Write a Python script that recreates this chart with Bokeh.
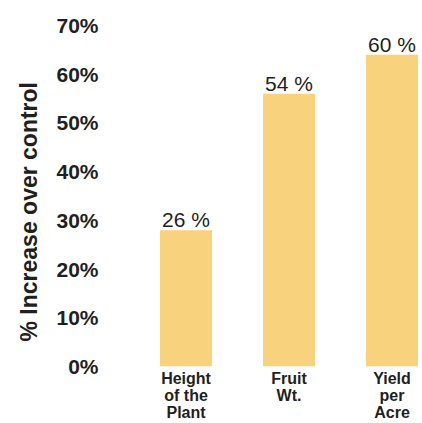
from bokeh.plotting import figure
from bokeh.models import Range1d, FixedTicker, Title
from bokeh.core.properties import value
from bokeh.embed import file_html
from bokeh.resources import INLINE

categories = ["Height\nof the\nPlant", "Fruit\nWt.", "Yield\nper\nAcre"]
bar_values = [28, 56, 64]
bar_labels = ["26 %", "54 %", "60 %"]
y_ticks = [0, 10, 20, 30, 40, 50, 60, 70]
y_tick_labels = ["0%", "10%", "20%", "30%", "40%", "50%", "60%", "70%"]
y_title = "% Increase over control"

xs = list(range(len(categories)))
tc = "#231f20"
font = "Liberation Sans"

p = figure(width=422, height=423, output_backend="svg", toolbar_location=None,
           x_range=Range1d(-0.782, 2.296), y_range=Range1d(0, 75.15),
           min_border_left=105, min_border_right=0, min_border_top=0, min_border_bottom=0)
p.outline_line_color = None
p.xgrid.grid_line_color = None
p.ygrid.grid_line_color = None
p.background_fill_color = "white"
p.border_fill_color = "white"

p.vbar(x=xs, top=bar_values, bottom=0, width=0.505, fill_color="#F9D27D", line_color=None)
p.text(x=xs, y=bar_values, text=bar_labels, text_align="center", text_baseline="bottom",
       y_offset=1, text_font=value(font), text_font_size="21px", text_color=tc)

p.yaxis.ticker = FixedTicker(ticks=y_ticks)
p.yaxis.major_label_overrides = {t: l for t, l in zip(y_ticks, y_tick_labels)}
p.yaxis.axis_line_color = None
p.yaxis.major_tick_line_color = None
p.yaxis.minor_tick_line_color = None
p.yaxis.major_tick_out = 0
p.yaxis.major_tick_in = 0
p.yaxis.major_label_standoff = 7
p.yaxis.major_label_text_font = font
p.yaxis.major_label_text_font_style = "bold"
p.yaxis.major_label_text_font_size = "21px"
p.yaxis.major_label_text_color = tc

p.add_layout(Title(text=y_title, align="left", offset=25, standoff=24,
                   text_font=font, text_font_style="bold", text_font_size="23px",
                   text_color=tc), "left")

p.xaxis.ticker = FixedTicker(ticks=xs)
p.xaxis.major_label_overrides = {x: c for x, c in zip(xs, categories)}
p.xaxis.axis_line_color = None
p.xaxis.major_tick_line_color = None
p.xaxis.minor_tick_line_color = None
p.xaxis.major_tick_out = 0
p.xaxis.major_tick_in = 0
p.xaxis.major_label_standoff = 3
p.xaxis.major_label_text_font = font
p.xaxis.major_label_text_font_style = "bold"
p.xaxis.major_label_text_font_size = "16px"
p.xaxis.major_label_text_color = tc
p.xaxis.major_label_text_line_height = 1.0

open("out.html", "w").write(file_html(p, INLINE))
